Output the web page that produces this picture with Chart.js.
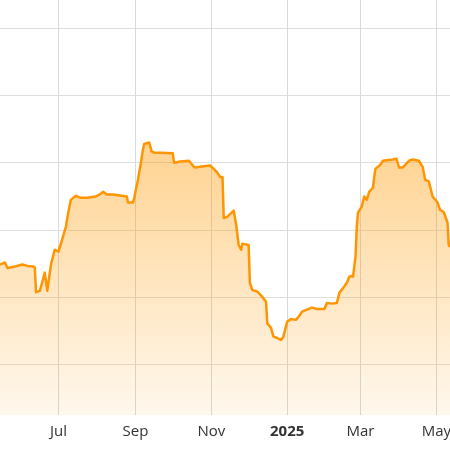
<!DOCTYPE html>
<html>
<head>
<meta charset="utf-8">
<script src="https://cdn.jsdelivr.net/npm/chart.js@4"></script>
<style>
  html, body { margin: 0; padding: 0; background: #fff; }
  #wrap { width: 450px; height: 450px; }
</style>
</head>
<body>
<div id="wrap"><canvas id="chart"></canvas></div>
<script>
/* values, one point per visible turn of the line */
const dates = [
  '2024-05-15', '2024-05-19', '2024-05-21', '2024-05-27', '2024-06-02', '2024-06-06', '2024-06-11', '2024-06-12',
  '2024-06-13', '2024-06-16', '2024-06-18', '2024-06-20', '2024-06-22', '2024-06-25', '2024-06-28',
  '2024-07-01', '2024-07-04', '2024-07-07', '2024-07-09', '2024-07-11', '2024-07-15', '2024-07-19', '2024-07-24', '2024-07-31',
  '2024-08-04', '2024-08-06', '2024-08-09', '2024-08-14', '2024-08-25', '2024-08-26', '2024-08-30', '2024-08-31',
  '2024-09-03', '2024-09-05', '2024-09-07', '2024-09-08', '2024-09-12', '2024-09-14', '2024-09-16', '2024-09-21',
  '2024-10-01', '2024-10-02', '2024-10-07', '2024-10-14', '2024-10-18', '2024-10-19', '2024-10-23', '2024-10-31',
  '2024-11-03', '2024-11-06', '2024-11-08', '2024-11-10', '2024-11-11', '2024-11-14', '2024-11-19', '2024-11-21',
  '2024-11-23', '2024-11-25', '2024-11-26', '2024-12-01',
  '2024-12-02', '2024-12-04', '2024-12-08', '2024-12-12', '2024-12-15', '2024-12-16', '2024-12-19', '2024-12-21',
  '2024-12-24', '2024-12-27', '2024-12-29',
  '2025-01-01', '2025-01-04', '2025-01-08', '2025-01-10', '2025-01-13', '2025-01-17', '2025-01-21', '2025-01-25', '2025-01-31',
  '2025-02-02', '2025-02-06', '2025-02-10', '2025-02-12', '2025-02-15', '2025-02-18', '2025-02-20', '2025-02-22',
  '2025-02-23', '2025-02-25', '2025-02-26', '2025-02-27',
  '2025-03-02', '2025-03-04', '2025-03-06', '2025-03-08', '2025-03-11', '2025-03-12', '2025-03-13', '2025-03-17',
  '2025-03-19', '2025-03-27', '2025-03-30',
  '2025-04-01', '2025-04-04', '2025-04-06', '2025-04-09', '2025-04-12', '2025-04-17', '2025-04-20', '2025-04-22',
  '2025-04-25', '2025-04-28',
  '2025-05-02', '2025-05-04', '2025-05-07', '2025-05-10', '2025-05-11', '2025-05-12'
];
const values = [
  34.9, 35.2, 34.4, 34.6, 34.9, 34.7, 34.6, 34.5,
  30.8, 31.0, 32.3, 33.7, 31.0, 34.9, 37.1,
  36.8, 38.6, 40.5, 42.7, 44.5, 45.1, 44.8, 44.8, 45.0,
  45.4, 45.7, 45.3, 45.3, 45.0, 44.1, 44.1, 44.8,
  47.5, 49.6, 52.0, 52.8, 53.0, 51.7, 51.5, 51.5,
  51.4, 50.0, 50.2, 50.3, 49.4, 49.3, 49.4, 49.6,
  49.1, 48.5, 47.9, 47.9, 41.8, 42.0, 42.9, 40.8,
  37.8, 37.1, 38.0, 37.8,
  32.2, 31.1, 30.9, 30.1, 29.4, 26.2, 25.5, 24.2,
  24.0, 23.7, 24.2,
  26.4, 26.8, 26.7, 27.1, 27.9, 28.2, 28.5, 28.3, 28.3,
  29.2, 29.1, 29.2, 30.7, 31.4, 32.2, 33.1, 33.2,
  33.1, 36.1, 40.5, 42.6,
  43.5, 45.0, 44.5, 45.7, 46.3, 47.8, 49.1, 49.7,
  50.3, 50.5, 50.6,
  49.3, 49.3, 49.7, 50.3, 50.5, 50.3, 49.4, 47.5,
  47.2, 45.0,
  44.1, 43.0, 42.7, 41.1, 37.8, 37.5
];
const tickDates = ['2024-07-01', '2024-09-01', '2024-11-01', '2025-01-01', '2025-03-01', '2025-05-01'];
const tickLabels = ['Jul', 'Sep', 'Nov', '2025', 'Mar', 'May'];
const yTicks = [20, 30, 40, 50, 60, 70];
const xRange = ['2024-05-15', '2025-05-12'];
const yRange = [12.57, 74.16];

const points = dates.map((d, i) => ({ x: Date.parse(d), y: values[i] }));
const tickMs = tickDates.map(d => Date.parse(d));

function fillGradient(ctx) {
  const area = ctx.chart.chartArea;
  if (!area) return 'rgba(255,152,0,0.3)';
  const g = ctx.chart.ctx.createLinearGradient(0, area.top, 0, area.bottom);
  g.addColorStop(0, 'rgba(255,152,0,0.62)');
  g.addColorStop(1, 'rgba(255,152,0,0.07)');
  return g;
}

new Chart(document.getElementById('chart'), {
  type: 'line',
  data: {
    datasets: [{
      data: points,
      borderColor: '#ff9500',
      borderWidth: 2.5,
      borderJoinStyle: 'round',
      backgroundColor: fillGradient,
      fill: 'start',
      pointRadius: 0,
      tension: 0
    }]
  },
  options: {
    responsive: true,
    maintainAspectRatio: false,
    animation: false,
    layout: { padding: 0 },
    plugins: { legend: { display: false }, tooltip: { enabled: false } },
    scales: {
      x: {
        type: 'linear',
        min: Date.parse(xRange[0]),
        max: Date.parse(xRange[1]),
        afterBuildTicks: s => { s.ticks = tickMs.map(v => ({ value: v })); },
        // plot runs edge to edge, labels may hang over the border
        afterFit: s => { s.paddingLeft = 0; s.paddingRight = 0; s.height = 35; },
        grid: { color: '#d9d9d9', drawTicks: false },
        border: { display: false },
        ticks: {
          padding: 8,
          maxRotation: 0,
          autoSkip: false,
          color: '#333',
          font: c => ({ family: '"Open Sans", sans-serif', size: 15,
                        weight: (c.tick && tickMs.indexOf(c.tick.value) === 3) ? 'bold' : 'normal' }),
          callback: v => tickLabels[tickMs.indexOf(v)]
        }
      },
      y: {
        min: yRange[0],
        max: yRange[1],
        afterBuildTicks: s => { s.ticks = yTicks.map(v => ({ value: v })); },
        grid: { color: '#dedede', drawTicks: false },
        border: { display: false },
        ticks: { display: false }
      }
    }
  }
});
</script>
</body>
</html>
